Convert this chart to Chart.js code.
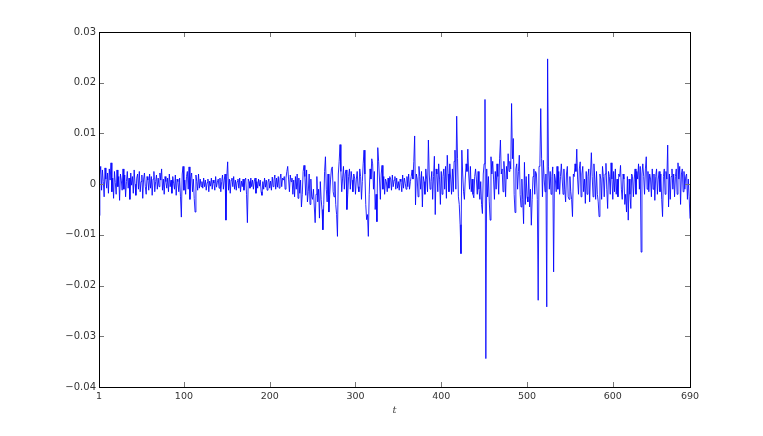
<!DOCTYPE html>
<html>
<head>
<meta charset="utf-8">
<script src="https://cdn.jsdelivr.net/npm/chart.js@4/dist/chart.umd.min.js"></script>
<style>
html,body{margin:0;padding:0;background:#fff;}
#wrap{width:763px;height:436px;position:relative;}
</style>
</head>
<body>
<div id="wrap"><canvas id="c" width="763" height="436"></canvas></div>
<script>
// Series values, t = 1..690
const returns = [
-62e-4,18e-4,35e-4,-12e-4,28e-4,5e-4,-25e-4,32e-4,10e-4,-8e-4,
22e-4,-18e-4,30e-4,8e-4,42e-4,-15e-4,12e-4,-28e-4,25e-4,3e-4,
-20e-4,28e-4,-5e-4,15e-4,-32e-4,20e-4,8e-4,-12e-4,30e-4,-10e-4,
18e-4,-25e-4,5e-4,25e-4,-8e-4,12e-4,-30e-4,22e-4,-2e-4,15e-4,
-18e-4,28e-4,0,-22e-4,12e-4,20e-4,-10e-4,25e-4,-15e-4,5e-4,
18e-4,-28e-4,10e-4,22e-4,-5e-4,-20e-4,15e-4,8e-4,-12e-4,20e-4,
-8e-4,15e-4,-22e-4,10e-4,25e-4,-15e-4,5e-4,18e-4,-10e-4,12e-4,
-5e-4,22e-4,8e-4,30e-4,-12e-4,10e-4,-20e-4,15e-4,5e-4,-8e-4,
12e-4,-15e-4,20e-4,-5e-4,8e-4,-18e-4,15e-4,2e-4,-10e-4,18e-4,
-22e-4,10e-4,5e-4,-15e-4,12e-4,-25e-4,-65e-4,20e-4,35e-4,-12e-4,
8e-4,-20e-4,15e-4,25e-4,-10e-4,34e-4,-30e-4,12e-4,22e-4,-15e-4,
10e-4,-28e-4,-55e-4,18e-4,5e-4,-12e-4,20e-4,-8e-4,10e-4,-5e-4,
5e-4,-8e-4,12e-4,-5e-4,8e-4,-12e-4,3e-4,10e-4,-15e-4,6e-4,
-4e-4,12e-4,-10e-4,8e-4,2e-4,-12e-4,15e-4,-6e-4,4e-4,10e-4,
-8e-4,12e-4,-15e-4,5e-4,18e-4,-10e-4,8e-4,20e-4,-71e-4,15e-4,
44e-4,-12e-4,10e-4,-18e-4,8e-4,12e-4,-5e-4,15e-4,-10e-4,8e-4,
-12e-4,5e-4,10e-4,-8e-4,12e-4,-15e-4,6e-4,-5e-4,10e-4,-12e-4,
8e-4,12e-4,-20e-4,-76e-4,10e-4,5e-4,-8e-4,12e-4,-5e-4,8e-4,
-10e-4,6e-4,12e-4,-18e-4,5e-4,-8e-4,10e-4,-4e-4,8e-4,-15e-4,
-22e-4,5e-4,-10e-4,12e-4,-6e-4,8e-4,-12e-4,4e-4,10e-4,-8e-4,
6e-4,-12e-4,14e-4,-5e-4,8e-4,18e-4,-10e-4,12e-4,-6e-4,15e-4,
-8e-4,10e-4,20e-4,-5e-4,12e-4,8e-4,15e-4,-10e-4,12e-4,25e-4,
35e-4,10e-4,-15e-4,18e-4,5e-4,12e-4,-20e-4,8e-4,-25e-4,15e-4,
-10e-4,20e-4,-28e-4,12e-4,-18e-4,8e-4,-45e-4,-20e-4,25e-4,37e-4,
15e-4,-22e-4,28e-4,-35e-4,-15e-4,20e-4,-40e-4,10e-4,-25e-4,-30e-4,
-10e-4,-45e-4,-76e-4,-20e-4,15e-4,-35e-4,-10e-4,-67e-4,5e-4,-30e-4,
-50e-4,-90e-4,-40e-4,25e-4,54e-4,-10e-4,-35e-4,20e-4,-55e-4,-20e-4,
10e-4,30e-4,34e-4,-15e-4,-25e-4,5e-4,-40e-4,-60e-4,-103e-4,20e-4,
45e-4,78e-4,25e-4,-15e-4,12e-4,35e-4,-10e-4,20e-4,28e-4,-50e-4,
-20e-4,15e-4,30e-4,-10e-4,25e-4,8e-4,-15e-4,20e-4,12e-4,-20e-4,
10e-4,25e-4,-5e-4,-15e-4,30e-4,15e-4,-30e-4,5e-4,40e-4,67e-4,
20e-4,-40e-4,-70e-4,-60e-4,-103e-4,-20e-4,30e-4,10e-4,50e-4,40e-4,
-10e-4,25e-4,-50e-4,-20e-4,-74e-4,72e-4,45e-4,10e-4,-30e-4,20e-4,
37e-4,-10e-4,15e-4,-20e-4,10e-4,5e-4,-15e-4,12e-4,-8e-4,15e-4,
10e-4,-12e-4,18e-4,-5e-4,8e-4,15e-4,-10e-4,12e-4,-8e-4,5e-4,
-12e-4,10e-4,5e-4,-15e-4,18e-4,-8e-4,12e-4,2e-4,-10e-4,15e-4,
-5e-4,20e-4,-10e-4,5e-4,15e-4,28e-4,10e-4,45e-4,95e-4,-41e-4,
20e-4,10e-4,-25e-4,35e-4,15e-4,-10e-4,25e-4,-45e-4,15e-4,5e-4,
-20e-4,30e-4,10e-4,-15e-4,87e-4,20e-4,-10e-4,5e-4,25e-4,-30e-4,
15e-4,55e-4,-60e-4,30e-4,20e-4,-15e-4,40e-4,10e-4,-40e-4,25e-4,
-20e-4,15e-4,30e-4,-10e-4,35e-4,-28e-4,57e-4,20e-4,-15e-4,40e-4,
10e-4,-20e-4,30e-4,-15e-4,45e-4,67e-4,-10e-4,134e-4,50e-4,-25e-4,
-40e-4,-80e-4,-137e-4,67e-4,20e-4,-15e-4,-30e-4,10e-4,40e-4,25e-4,
69e-4,20e-4,-10e-4,35e-4,-15e-4,10e-4,-20e-4,-27e-4,15e-4,30e-4,
10e-4,-20e-4,25e-4,-10e-4,-30e-4,5e-4,-40e-4,-58e-4,20e-4,40e-4,
167e-4,-344e-4,30e-4,-25e-4,15e-4,-35e-4,-71e-4,54e-4,20e-4,45e-4,
10e-4,-30e-4,25e-4,-10e-4,40e-4,15e-4,-20e-4,50e-4,87e-4,20e-4,
30e-4,-15e-4,45e-4,20e-4,-25e-4,35e-4,10e-4,60e-4,25e-4,45e-4,
30e-4,159e-4,50e-4,90e-4,-20e-4,-56e-4,30e-4,40e-4,-10e-4,25e-4,
57e-4,-20e-4,-45e-4,10e-4,-30e-4,-78e-4,43e-4,-40e-4,15e-4,-25e-4,
-35e-4,20e-4,-45e-4,-10e-4,-81e-4,-30e-4,15e-4,30e-4,-20e-4,25e-4,
20e-4,-30e-4,-229e-4,35e-4,40e-4,149e-4,50e-4,-25e-4,47e-4,10e-4,
-15e-4,20e-4,-242e-4,247e-4,34e-4,-10e-4,25e-4,-20e-4,15e-4,34e-4,
-173e-4,20e-4,10e-4,-15e-4,35e-4,-10e-4,25e-4,-20e-4,15e-4,40e-4,
10e-4,-20e-4,30e-4,-10e-4,-35e-4,20e-4,35e-4,-25e-4,-30e-4,15e-4,
-15e-4,-30e-4,-64e-4,20e-4,15e-4,40e-4,25e-4,69e-4,10e-4,-20e-4,
30e-4,44e-4,-25e-4,20e-4,35e-4,-15e-4,10e-4,-38e-4,25e-4,-20e-4,
15e-4,30e-4,-35e-4,20e-4,62e-4,15e-4,-25e-4,40e-4,10e-4,-30e-4,
25e-4,-20e-4,-35e-4,-64e-4,20e-4,10e-4,-30e-4,35e-4,15e-4,-25e-4,
20e-4,41e-4,-10e-4,-48e-4,25e-4,15e-4,-20e-4,42e-4,10e-4,-30e-4,
25e-4,-15e-4,30e-4,-20e-4,10e-4,-25e-4,20e-4,15e-4,37e-4,-10e-4,
-30e-4,20e-4,10e-4,-40e-4,-20e-4,-55e-4,15e-4,-71e-4,10e-4,-20e-4,
-48e-4,20e-4,15e-4,-25e-4,10e-4,30e-4,-20e-4,25e-4,10e-4,40e-4,
-10e-4,35e-4,-134e-4,20e-4,40e-4,15e-4,-20e-4,30e-4,54e-4,-10e-4,
25e-4,-15e-4,20e-4,10e-4,-25e-4,30e-4,-10e-4,20e-4,-32e-4,15e-4,
30e-4,-20e-4,10e-4,25e-4,-15e-4,20e-4,-30e-4,-64e-4,15e-4,30e-4,
-20e-4,25e-4,10e-4,77e-4,-45e-4,20e-4,-30e-4,15e-4,30e-4,-10e-4,
20e-4,-25e-4,15e-4,30e-4,-20e-4,42e-4,10e-4,35e-4,-40e-4,20e-4,
30e-4,-15e-4,25e-4,-10e-4,15e-4,20e-4,-30e-4,10e-4,-25e-4,-68e-4
];
const xTickValues = [1, 100, 200, 300, 400, 500, 600, 690];
const yTickValues = [0.03, 0.02, 0.01, 0, -0.01, -0.02, -0.03, -0.04];
const xTitle = 't';

const points = returns.map((v, i) => ({x: i + 1, y: v}));

function fmtY(v) {
  if (Math.abs(v) < 1e-9) return '0';
  const s = Math.abs(v).toFixed(2);
  return (v < 0 ? '\u2212' : '') + s;
}

const boxPlugin = {
  id: 'boxTicks',
  afterDraw(chart) {
    const {ctx, chartArea: a, scales: {x, y}} = chart;
    ctx.save();
    ctx.strokeStyle = '#777';
    ctx.lineWidth = 1;
    const L = 5;
    ctx.beginPath();
    yTickValues.forEach(v => {
      const py = Math.round(y.getPixelForValue(v)) + 0.5;
      ctx.moveTo(a.left, py); ctx.lineTo(a.left + L, py);
      ctx.moveTo(a.right, py); ctx.lineTo(a.right - L, py);
    });
    xTickValues.forEach(v => {
      const px = Math.round(x.getPixelForValue(v)) + 0.5;
      ctx.moveTo(px, a.bottom); ctx.lineTo(px, a.bottom - L);
      ctx.moveTo(px, a.top); ctx.lineTo(px, a.top + L);
    });
    ctx.stroke();
    ctx.strokeStyle = '#000';
    ctx.strokeRect(Math.round(a.left) + 0.5, Math.round(a.top) + 0.5,
                   Math.round(a.right - a.left), Math.round(a.bottom - a.top));
    ctx.restore();
  }
};

new Chart(document.getElementById('c'), {
  type: 'line',
  data: {
    datasets: [{
      data: points,
      borderColor: '#0000ff',
      borderWidth: 0.85,
      pointRadius: 0,
      tension: 0,
      fill: false
    }]
  },
  options: {
    responsive: false,
    animation: false,
    devicePixelRatio: 1,
    layout: {padding: {left: 0, right: 73, top: 32, bottom: 20}},
    plugins: {legend: {display: false}, tooltip: {enabled: false}},
    scales: {
      x: {
        type: 'linear',
        min: 1, max: 690,
        grid: {display: false, drawTicks: false},
        border: {display: false},
        afterBuildTicks: s => { s.ticks = xTickValues.map(v => ({value: v})); },
        afterFit: s => { s.height = 436 - 387 - 20; },
        ticks: {
          autoSkip: false, maxRotation: 0, padding: 4,
          color: '#333',
          font: {family: 'DejaVu Sans, sans-serif', size: 9.5},
          callback: v => String(v)
        },
        title: {
          display: true, text: xTitle, color: '#444',
          font: {family: 'DejaVu Serif, serif', size: 10, style: 'italic'},
          padding: {top: 0, bottom: 0}
        }
      },
      y: {
        type: 'linear',
        min: -0.04, max: 0.03,
        grid: {display: false, drawTicks: false},
        border: {display: false},
        afterBuildTicks: s => { s.ticks = yTickValues.map(v => ({value: v})); },
        afterFit: s => { s.width = 99; },
        ticks: {
          autoSkip: false, padding: 3,
          color: '#333',
          font: {family: 'DejaVu Sans, sans-serif', size: 10},
          callback: v => fmtY(v)
        }
      }
    }
  },
  plugins: [boxPlugin]
});
</script>
</body>
</html>
